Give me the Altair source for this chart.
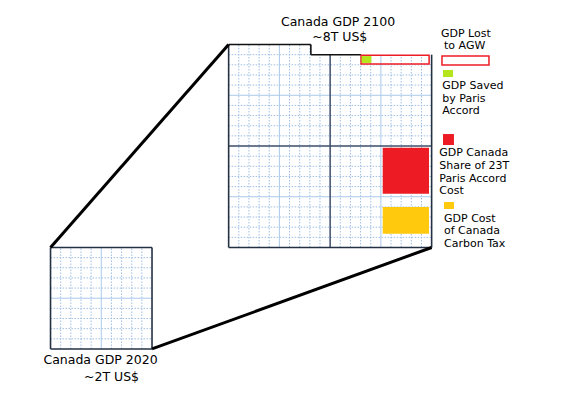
import altair as alt
import pandas as pd

# Coordinate system: 1 unit = one grid cell (small square = 10 x 10 cells = ~2T US$)
X_DOMAIN = [-4.19, 52.07]
Y_DOMAIN = [-3.65, 33.6]

# Squares (x0, y0, side)
small_sq = [0.0, 0.0, 10.0]          # Canada GDP 2020 (~2T)
big_sq = [17.55, 10.0, 20.0]         # Canada GDP 2100 (~8T)
lost_strip_x = 25.65                 # start of strip lost to AGW
lost_strip_y = 29.0

# Filled boxes: name, x, x2, y, y2, color
box_names = ["saved", "paris", "tax", "leg_saved", "leg_paris", "leg_tax"]
box_x = [30.65, 32.73, 32.73, 38.67, 38.67, 38.77]
box_x2 = [31.6, 37.29, 37.29, 39.66, 39.75, 39.75]
box_y = [28.2, 15.3, 11.36, 26.8, 20.1, 13.79]
box_y2 = [28.85, 19.83, 13.99, 27.49, 21.18, 14.48]
box_col = ["#b5e61d", "#ed1c24", "#ffc90e", "#b5e61d", "#ed1c24", "#ffc90e"]

# Outline boxes (GDP lost to AGW)
out_x = [30.6, 38.57]
out_x2 = [37.3, 43.2]
out_y = [28.08, 27.98]
out_y2 = [28.95, 28.87]

# Connector lines
con_x = [0.0, 10.0]
con_y = [10.0, 0.0]
con_x2 = [17.55, 37.55]
con_y2 = [30.0, 10.0]

# Titles (centered)
title_text = ["Canada GDP 2100", "~8T US$", "Canada GDP 2020", "~2T US$"]
title_x = [28.33, 28.5, 4.93, 6.01]
title_y = [31.85, 30.37, -1.51, -3.12]

# Legend texts (left aligned)
leg_text = ["GDP Lost", "to AGW", "GDP Saved", "by Paris", "Accord",
            "GDP Canada", "Share of 23T", "Paris Accord", "Cost",
            "GDP Cost", "of Canada", "Carbon Tax"]
leg_x = [38.47, 38.77, 38.6, 38.6, 38.6,
         38.3, 38.3, 38.3, 38.3,
         38.77, 38.77, 38.77]
leg_y = [30.77, 29.56, 25.62, 24.31, 23.12,
         19.01, 17.73, 16.42, 15.24,
         12.51, 11.30, 10.02]

DOT = "#9fbee2"
LIGHT = "#a9c9ea"
DARK = "#3d4e69"
EDGE = "#243044"

xs = alt.Scale(domain=X_DOMAIN, nice=False, zero=False)
ys = alt.Scale(domain=Y_DOMAIN, nice=False, zero=False)


def X(f="x"):
    return alt.X(f"{f}:Q", scale=xs, axis=None)


def Y(f="y"):
    return alt.Y(f"{f}:Q", scale=ys, axis=None)


# Build grid lines
rows = []
# small square
sx, sy, ss = small_sq
for k in range(1, 10):
    kind = "light" if k == 5 else "dot"
    rows.append(dict(x=sx + k, x2=sx + k, y=sy, y2=sy + ss, kind=kind))
    rows.append(dict(x=sx, x2=sx + ss, y=sy + k, y2=sy + k, kind=kind))
# big square
bx, by, bs = big_sq
for k in range(1, 20):
    kind = "dark" if k == 10 else ("light" if k in (5, 15) else "dot")
    vx = bx + k
    top = by + bs if vx < lost_strip_x else lost_strip_y
    rows.append(dict(x=vx, x2=vx, y=by, y2=top, kind=kind))
    hy = by + k
    right = bx + bs if hy < lost_strip_y - 0.01 else lost_strip_x
    rows.append(dict(x=bx, x2=right, y=hy, y2=hy, kind=kind))
grid = pd.DataFrame(rows)

edges = pd.DataFrame([
    dict(x=sx, x2=sx + ss, y=sy, y2=sy),
    dict(x=sx, x2=sx + ss, y=sy + ss, y2=sy + ss),
    dict(x=sx, x2=sx, y=sy, y2=sy + ss),
    dict(x=sx + ss, x2=sx + ss, y=sy, y2=sy + ss),
    dict(x=bx, x2=bx + bs, y=by, y2=by),
    dict(x=bx, x2=bx, y=by, y2=by + bs),
    dict(x=bx + bs, x2=bx + bs, y=by, y2=lost_strip_y),
])
step = pd.DataFrame([
    dict(x=bx, x2=lost_strip_x, y=by + bs, y2=by + bs),
    dict(x=lost_strip_x, x2=lost_strip_x, y=lost_strip_y, y2=by + bs),
    dict(x=lost_strip_x, x2=box_x[0] - 0.05, y=lost_strip_y, y2=lost_strip_y),
])


def rule_layer(df, **kw):
    return alt.Chart(df).mark_rule(**kw).encode(
        x=X(), x2="x2:Q", y=Y(), y2="y2:Q")


dots = rule_layer(grid[grid.kind == "dot"], color=DOT, strokeWidth=1, strokeDash=[1.5, 1.5])
lights = rule_layer(grid[grid.kind == "light"], color=LIGHT, strokeWidth=1)
darks = rule_layer(grid[grid.kind == "dark"], color=DARK, strokeWidth=1.5)
edge_l = rule_layer(edges, color=EDGE, strokeWidth=1.6)
step_l = rule_layer(step, color="#111111", strokeWidth=1.6)

boxes = pd.DataFrame(dict(name=box_names, x=box_x, x2=box_x2, y=box_y, y2=box_y2, c=box_col))
box_l = alt.Chart(boxes).mark_rect().encode(
    x=X(), x2="x2:Q", y=Y(), y2="y2:Q", color=alt.Color("c:N", scale=None))

outs = pd.DataFrame(dict(x=out_x, x2=out_x2, y=out_y, y2=out_y2))
out_l = alt.Chart(outs).mark_rect(fill="white", fillOpacity=0, stroke="#ed1c24", strokeWidth=1.5).encode(
    x=X(), x2="x2:Q", y=Y(), y2="y2:Q")

cons = pd.DataFrame(dict(x=con_x, y=con_y, x2=con_x2, y2=con_y2))
con_l = rule_layer(cons, color="black", strokeWidth=3)

titles = pd.DataFrame(dict(t=title_text, x=title_x, y=title_y))
title_l = alt.Chart(titles).mark_text(
    font="DejaVu Sans", fontSize=12.5, align="center", baseline="alphabetic", color="black"
).encode(x=X(), y=Y(), text="t:N")

legs = pd.DataFrame(dict(t=leg_text, x=leg_x, y=leg_y))
leg_l = alt.Chart(legs).mark_text(
    font="DejaVu Sans", fontSize=11, align="left", baseline="alphabetic", color="black"
).encode(x=X(), y=Y(), text="t:N")

# saved box drawn after outline
saved_l = alt.Chart(boxes[boxes.name == "saved"]).mark_rect().encode(
    x=X(), x2="x2:Q", y=Y(), y2="y2:Q", color=alt.Color("c:N", scale=None))

chart = alt.layer(
    dots, lights, darks, edge_l, step_l, box_l, out_l, saved_l, con_l, title_l, leg_l
).properties(
    width=571, height=378, padding=0, autosize="none", background="white"
).configure_view(stroke=None)

chart.save("out.html", embed_options={"renderer": "svg", "actions": False})
